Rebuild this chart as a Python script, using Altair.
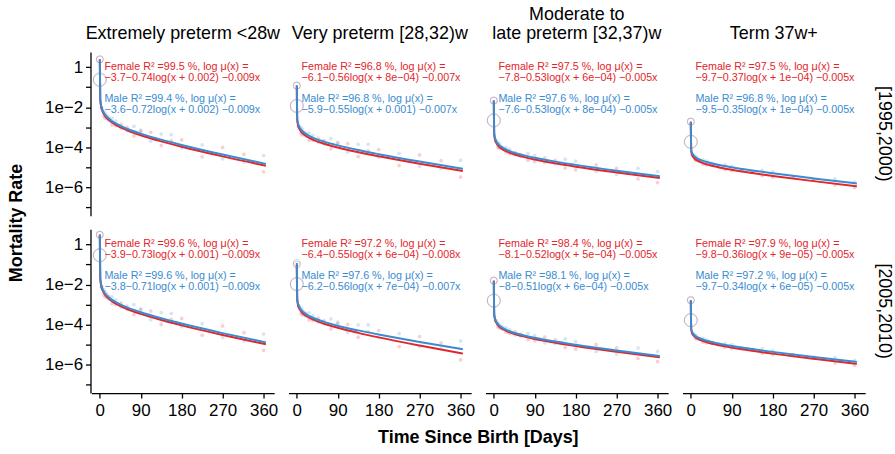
import altair as alt
import pandas as pd

GROUPS = ["Extremely preterm <28w", "Very preterm [28,32)w",
          "Moderate to|late preterm [32,37)w", "Term 37w+"]
PERIODS = ["[1995,2000)", "[2005,2010)"]
SEXES = ["Female", "Male"]
RED = "#E2262B"
BLUE = "#3A8BD0"

# fitted curves (mortality rate)
DAYS_FIT = [0, 1, 2, 4, 7, 12, 20, 35, 60, 90, 135, 180, 270, 365]
FIT_EP_95_F = [2.46, 0.0245, 0.0145, 0.00855, 0.00550, 0.00353, 0.00225, 0.00130, 6.96e-4, 3.94e-4, 1.95e-4, 1.05e-4, 3.46e-5, 1.18e-5]
FIT_EP_95_M = [2.40, 0.0271, 0.0163, 0.00971, 0.00632, 0.00410, 0.00264, 0.00154, 8.35e-4, 4.76e-4, 2.37e-4, 1.29e-4, 4.27e-5, 1.46e-5]
FIT_VP_95_F = [0.122, 2.23e-3, 1.50e-3, 1.00e-3, 7.18e-4, 5.13e-4, 3.64e-4, 2.40e-4, 1.49e-4, 9.61e-5, 5.59e-5, 3.47e-5, 1.47e-5, 6.40e-6]
FIT_VP_95_M = [0.122, 2.72e-3, 1.85e-3, 1.24e-3, 8.94e-4, 6.42e-4, 4.59e-4, 3.03e-4, 1.89e-4, 1.23e-4, 7.17e-5, 4.47e-5, 1.90e-5, 8.29e-6]
FIT_ML_95_F = [0.0209, 4.08e-4, 2.81e-4, 1.93e-4, 1.41e-4, 1.03e-4, 7.58e-5, 5.23e-5, 3.47e-5, 2.41e-5, 1.55e-5, 1.06e-5, 5.46e-6, 2.90e-6]
FIT_ML_95_M = [0.0219, 4.98e-4, 3.43e-4, 2.35e-4, 1.72e-4, 1.26e-4, 9.26e-5, 6.38e-5, 4.23e-5, 2.94e-5, 1.89e-5, 1.30e-5, 6.67e-6, 3.54e-6]
FIT_T_95_F = [1.85e-3, 6.10e-5, 4.69e-5, 3.60e-5, 2.88e-5, 2.30e-5, 1.83e-5, 1.38e-5, 9.98e-6, 7.39e-6, 5.08e-6, 3.65e-6, 2.00e-6, 1.11e-6]
FIT_T_95_M = [1.88e-3, 7.45e-5, 5.81e-5, 4.52e-5, 3.66e-5, 2.95e-5, 2.37e-5, 1.81e-5, 1.32e-5, 9.88e-6, 6.84e-6, 4.94e-6, 2.74e-6, 1.53e-6]
FIT_EP_05_F = [3.14, 0.0201, 0.0120, 0.00710, 0.00459, 0.00296, 0.00190, 0.00110, 5.94e-4, 3.37e-4, 1.67e-4, 9.04e-5, 2.99e-5, 1.02e-5]
FIT_EP_05_M = [3.02, 0.0222, 0.0134, 0.00807, 0.00528, 0.00344, 0.00223, 0.00131, 7.12e-4, 4.08e-4, 2.04e-4, 1.11e-4, 3.70e-5, 1.27e-5]
FIT_VP_05_F = [0.0983, 1.65e-3, 1.12e-3, 7.51e-4, 5.39e-4, 3.85e-4, 2.73e-4, 1.78e-4, 1.08e-4, 6.81e-5, 3.80e-5, 2.26e-5, 8.81e-6, 3.49e-6]
FIT_VP_05_M = [0.119, 2.02e-3, 1.36e-3, 9.08e-4, 6.50e-4, 4.64e-4, 3.30e-4, 2.17e-4, 1.35e-4, 8.70e-5, 5.06e-5, 3.14e-5, 1.33e-5, 5.79e-6]
FIT_ML_05_F = [0.0158, 3.02e-4, 2.10e-4, 1.45e-4, 1.07e-4, 7.85e-5, 5.78e-5, 4.01e-5, 2.68e-5, 1.87e-5, 1.21e-5, 8.29e-6, 4.28e-6, 2.28e-6]
FIT_ML_05_M = [0.0148, 3.34e-4, 2.33e-4, 1.62e-4, 1.20e-4, 8.90e-5, 6.59e-5, 4.59e-5, 3.08e-5, 2.16e-5, 1.40e-5, 9.65e-6, 5.00e-6, 2.67e-6]
FIT_T_05_F = [1.59e-3, 5.52e-5, 4.28e-5, 3.30e-5, 2.66e-5, 2.14e-5, 1.71e-5, 1.30e-5, 9.41e-6, 7.00e-6, 4.83e-6, 3.48e-6, 1.92e-6, 1.07e-6]
FIT_T_05_M = [1.67e-3, 6.10e-5, 4.79e-5, 3.75e-5, 3.05e-5, 2.48e-5, 2.00e-5, 1.54e-5, 1.13e-5, 8.46e-6, 5.89e-6, 4.26e-6, 2.37e-6, 1.33e-6]

# faint observed rates (estimated from the haze of points)
DAYS_OBS = [4, 9, 12, 16, 20, 27, 35, 47, 60, 75, 90, 112, 135, 157, 180, 225, 270, 317, 360]
OBS_EP_95_F = [9.4e-3, 3.5e-3, 2.8e-3, 3.7e-3, 2.9e-3, 1.3e-3, 1.2e-3, 1.4e-3, 9.7e-4, 3.7e-4, 6.3e-4, 5.5e-4, 1.2e-4, 2.1e-4, 2.3e-4, 3.3e-5, 9.7e-5, 4.4e-5, 5.9e-6]
OBS_EP_95_M = [8.7e-3, 6.4e-3, 4.9e-3, 2.6e-3, 2.1e-3, 2.8e-3, 2.0e-3, 8.5e-4, 6.7e-4, 1.1e-3, 7.1e-4, 2.0e-4, 4.5e-4, 4.2e-4, 9.0e-5, 1.3e-4, 2.6e-5, 1.8e-5, 3.8e-5]
OBS_VP_95_F = [1.1e-3, 4.9e-4, 4.1e-4, 5.6e-4, 4.7e-4, 2.2e-4, 2.2e-4, 2.8e-4, 2.1e-4, 8.4e-5, 1.5e-4, 1.5e-4, 3.4e-5, 6.6e-5, 7.6e-5, 1.2e-5, 4.1e-5, 2.1e-5, 3.2e-6]
OBS_VP_95_M = [1.1e-3, 9.5e-4, 7.7e-4, 4.3e-4, 3.7e-4, 5.2e-4, 3.9e-4, 1.8e-4, 1.5e-4, 2.7e-4, 1.8e-4, 5.6e-5, 1.4e-4, 1.4e-4, 3.1e-5, 4.9e-5, 1.1e-5, 8.8e-6, 2.2e-5]
OBS_ML_95_F = [2.1e-4, 1.0e-4, 8.8e-5, 1.1e-4, 9.1e-5, 5.4e-5, 4.7e-5, 5.5e-5, 4.3e-5, 2.2e-5, 1.9e-5, 2.9e-5, 2.2e-5, 9.0e-6, 7.4e-6, 1.3e-5, 8.7e-6, 2.6e-6, 1.7e-6]
OBS_ML_95_M = [2.1e-4, 1.7e-4, 1.5e-4, 9.2e-5, 7.9e-5, 9.6e-5, 7.7e-5, 4.2e-5, 3.6e-5, 4.9e-5, 3.8e-5, 1.7e-5, 1.4e-5, 2.5e-5, 2.0e-5, 6.1e-6, 4.3e-6, 8.7e-6, 6.0e-6]
OBS_T_95_F = [3.8e-5, 2.4e-5, 2.1e-5, 2.3e-5, 2.0e-5, 1.4e-5, 1.3e-5, 1.3e-5, 1.1e-5, 7.6e-6, 6.7e-6, 7.0e-6, 5.8e-6, 3.7e-6, 3.2e-6, 3.2e-6, 2.4e-6, 1.3e-6, 9.5e-7]
OBS_T_95_M = [4.3e-5, 3.6e-5, 3.2e-5, 2.4e-5, 2.2e-5, 2.3e-5, 2.0e-5, 1.4e-5, 1.2e-5, 1.3e-5, 1.1e-5, 7.2e-6, 6.2e-6, 7.0e-6, 5.8e-6, 3.2e-6, 2.4e-6, 2.6e-6, 1.8e-6]
OBS_EP_05_F = [7.8e-3, 3.0e-3, 2.4e-3, 3.1e-3, 2.5e-3, 1.1e-3, 9.9e-4, 1.2e-3, 8.3e-4, 3.1e-4, 5.4e-4, 4.7e-4, 1.0e-4, 1.8e-4, 2.0e-4, 2.9e-5, 8.4e-5, 3.9e-5, 5.1e-6]
OBS_EP_05_M = [7.3e-3, 5.3e-3, 4.1e-3, 2.2e-3, 1.8e-3, 2.4e-3, 1.7e-3, 7.2e-4, 5.7e-4, 9.7e-4, 6.1e-4, 1.7e-4, 3.9e-4, 3.6e-4, 7.8e-5, 1.1e-4, 2.2e-5, 1.5e-5, 3.3e-5]
OBS_VP_05_F = [8.3e-4, 3.6e-4, 3.1e-4, 4.2e-4, 3.5e-4, 1.7e-4, 1.6e-4, 2.1e-4, 1.5e-4, 6.0e-5, 1.1e-4, 1.0e-4, 2.3e-5, 4.4e-5, 5.0e-5, 7.8e-6, 2.5e-5, 1.2e-5, 1.7e-6]
OBS_VP_05_M = [8.2e-4, 6.9e-4, 5.6e-4, 3.1e-4, 2.6e-4, 3.8e-4, 2.8e-4, 1.3e-4, 1.1e-4, 1.9e-4, 1.3e-4, 4.0e-5, 9.6e-5, 9.6e-5, 2.2e-5, 3.5e-5, 8.0e-6, 6.1e-6, 1.5e-5]
OBS_ML_05_F = [1.6e-4, 7.8e-5, 6.7e-5, 8.1e-5, 6.9e-5, 4.1e-5, 3.6e-5, 4.3e-5, 3.3e-5, 1.7e-5, 1.5e-5, 2.3e-5, 1.7e-5, 7.0e-6, 5.8e-6, 1.0e-5, 6.8e-6, 2.0e-6, 1.4e-6]
OBS_ML_05_M = [1.5e-4, 1.2e-4, 1.0e-4, 6.5e-5, 5.6e-5, 6.9e-5, 5.5e-5, 3.0e-5, 2.6e-5, 3.6e-5, 2.8e-5, 1.2e-5, 1.1e-5, 1.9e-5, 1.4e-5, 4.5e-6, 3.3e-6, 6.6e-6, 4.5e-6]
OBS_T_05_F = [3.5e-5, 2.2e-5, 1.9e-5, 2.1e-5, 1.9e-5, 1.3e-5, 1.2e-5, 1.2e-5, 1.0e-5, 7.1e-6, 6.3e-6, 6.7e-6, 5.6e-6, 3.6e-6, 3.1e-6, 3.1e-6, 2.3e-6, 1.2e-6, 9.1e-7]
OBS_T_05_M = [3.6e-5, 3.0e-5, 2.7e-5, 2.0e-5, 1.9e-5, 2.0e-5, 1.7e-5, 1.2e-5, 1.0e-5, 1.1e-5, 9.7e-6, 6.2e-6, 5.3e-6, 6.0e-6, 5.0e-6, 2.7e-6, 2.1e-6, 2.2e-6, 1.6e-6]

# the first-day points drawn as open circles
DAYS_FIRST = [0, 0]
FIRST_EP_95_F = [2.5, 0.25]
FIRST_EP_95_M = [2.4, 0.22]
FIRST_VP_95_F = [0.12, 0.012]
FIRST_VP_95_M = [0.12, 0.011]
FIRST_ML_95_F = [0.021, 0.0021]
FIRST_ML_95_M = [0.022, 0.0023]
FIRST_T_95_F = [1.9e-3, 1.9e-4]
FIRST_T_95_M = [1.9e-3, 1.8e-4]
FIRST_EP_05_F = [3.1, 0.3]
FIRST_EP_05_M = [3.0, 0.28]
FIRST_VP_05_F = [0.098, 0.010]
FIRST_VP_05_M = [0.12, 0.011]
FIRST_ML_05_F = [0.016, 0.0016]
FIRST_ML_05_M = [0.015, 0.0015]
FIRST_T_05_F = [1.6e-3, 1.6e-4]
FIRST_T_05_M = [1.7e-3, 1.7e-4]

LAB_EP_95_F = "Female R² =99.5 %, log μ(x) =\n−3.7−0.74log(x + 0.002) −0.009x"
LAB_EP_95_M = "Male R² =99.4 %, log μ(x) =\n−3.6−0.72log(x + 0.002) −0.009x"
LAB_VP_95_F = "Female R² =96.8 %, log μ(x) =\n−6.1−0.56log(x + 8e−04) −0.007x"
LAB_VP_95_M = "Male R² =96.8 %, log μ(x) =\n−5.9−0.55log(x + 0.001) −0.007x"
LAB_ML_95_F = "Female R² =97.5 %, log μ(x) =\n−7.8−0.53log(x + 6e−04) −0.005x"
LAB_ML_95_M = "Male R² =97.6 %, log μ(x) =\n−7.6−0.53log(x + 8e−04) −0.005x"
LAB_T_95_F = "Female R² =97.5 %, log μ(x) =\n−9.7−0.37log(x + 1e−04) −0.005x"
LAB_T_95_M = "Male R² =96.8 %, log μ(x) =\n−9.5−0.35log(x + 1e−04) −0.005x"
LAB_EP_05_F = "Female R² =99.6 %, log μ(x) =\n−3.9−0.73log(x + 0.001) −0.009x"
LAB_EP_05_M = "Male R² =99.6 %, log μ(x) =\n−3.8−0.71log(x + 0.001) −0.009x"
LAB_VP_05_F = "Female R² =97.2 %, log μ(x) =\n−6.4−0.55log(x + 6e−04) −0.008x"
LAB_VP_05_M = "Male R² =97.6 %, log μ(x) =\n−6.2−0.56log(x + 7e−04) −0.007x"
LAB_ML_05_F = "Female R² =98.4 %, log μ(x) =\n−8.1−0.52log(x + 5e−04) −0.005x"
LAB_ML_05_M = "Male R² =98.1 %, log μ(x) =\n−8−0.51log(x + 6e−04) −0.005x"
LAB_T_05_F = "Female R² =97.9 %, log μ(x) =\n−9.8−0.36log(x + 9e−05) −0.005x"
LAB_T_05_M = "Male R² =97.2 %, log μ(x) =\n−9.7−0.34log(x + 6e−05) −0.005x"

SERIES = [
    (0, 0, "Female", FIT_EP_95_F, OBS_EP_95_F, FIRST_EP_95_F, LAB_EP_95_F),
    (0, 0, "Male", FIT_EP_95_M, OBS_EP_95_M, FIRST_EP_95_M, LAB_EP_95_M),
    (1, 0, "Female", FIT_VP_95_F, OBS_VP_95_F, FIRST_VP_95_F, LAB_VP_95_F),
    (1, 0, "Male", FIT_VP_95_M, OBS_VP_95_M, FIRST_VP_95_M, LAB_VP_95_M),
    (2, 0, "Female", FIT_ML_95_F, OBS_ML_95_F, FIRST_ML_95_F, LAB_ML_95_F),
    (2, 0, "Male", FIT_ML_95_M, OBS_ML_95_M, FIRST_ML_95_M, LAB_ML_95_M),
    (3, 0, "Female", FIT_T_95_F, OBS_T_95_F, FIRST_T_95_F, LAB_T_95_F),
    (3, 0, "Male", FIT_T_95_M, OBS_T_95_M, FIRST_T_95_M, LAB_T_95_M),
    (0, 1, "Female", FIT_EP_05_F, OBS_EP_05_F, FIRST_EP_05_F, LAB_EP_05_F),
    (0, 1, "Male", FIT_EP_05_M, OBS_EP_05_M, FIRST_EP_05_M, LAB_EP_05_M),
    (1, 1, "Female", FIT_VP_05_F, OBS_VP_05_F, FIRST_VP_05_F, LAB_VP_05_F),
    (1, 1, "Male", FIT_VP_05_M, OBS_VP_05_M, FIRST_VP_05_M, LAB_VP_05_M),
    (2, 1, "Female", FIT_ML_05_F, OBS_ML_05_F, FIRST_ML_05_F, LAB_ML_05_F),
    (2, 1, "Male", FIT_ML_05_M, OBS_ML_05_M, FIRST_ML_05_M, LAB_ML_05_M),
    (3, 1, "Female", FIT_T_05_F, OBS_T_05_F, FIRST_T_05_F, LAB_T_05_F),
    (3, 1, "Male", FIT_T_05_M, OBS_T_05_M, FIRST_T_05_M, LAB_T_05_M),
]

rows = []
for gi, pi, sex, fit, obs, first, lab in SERIES:
    g, p = GROUPS[gi], PERIODS[pi]
    for d, v in zip(DAYS_FIT, fit):
        rows.append(dict(group=g, period=p, sex=sex, kind="fit", day=d, rate=v, idx=0, label=""))
    for d, v in zip(DAYS_OBS, obs):
        rows.append(dict(group=g, period=p, sex=sex, kind="obs", day=d, rate=v, idx=0, label=""))
    for k, (d, v) in enumerate(zip(DAYS_FIRST, first)):
        rows.append(dict(group=g, period=p, sex=sex, kind="first", day=d, rate=v, idx=k, label=""))
    rows.append(dict(group=g, period=p, sex=sex, kind="label", day=0, rate=1.0, idx=0, label=lab))
df = pd.DataFrame(rows)

FONT = "Liberation Sans"
MINUS = "\u2212"

xscale = alt.Scale(domain=[-18.25, 383.25], nice=False, zero=False)
yscale = alt.Scale(type="log", domain=[10 ** -7.43, 10 ** 0.76], nice=False)
xaxis = alt.Axis(values=[0, 90, 180, 270, 360], title=None, labelFontSize=17,
                 labelPadding=5, tickSize=5, grid=False)
yaxis = alt.Axis(values=[1e-7, 1e-6, 1e-5, 1e-4, 1e-3, 1e-2, 1e-1, 1], title=None,
                 labelFontSize=17, labelPadding=3, tickSize=5, grid=False,
                 labelExpr=("datum.value >= 0.5 ? '1' : (abs(round(log(datum.value)/LN10)) % 2 == 0 ? "
                            "'1e" + MINUS + "' + abs(round(log(datum.value)/LN10)) : '')"))
color = alt.Color("sex:N", scale=alt.Scale(domain=SEXES, range=[RED, BLUE]), legend=None)

base = alt.Chart().encode(
    x=alt.X("day:Q", scale=xscale, axis=xaxis),
    y=alt.Y("rate:Q", scale=yscale, axis=yaxis),
)
obs_layer = base.transform_filter("datum.kind == 'obs'").mark_circle(size=14, opacity=0.22).encode(color=color)
first_layer = base.transform_filter("datum.kind == 'first'").mark_point(
    filled=False, strokeWidth=1, opacity=0.3).encode(
    color=color,
    size=alt.Size("idx:Q", scale=alt.Scale(domain=[0, 1], range=[50, 170]), legend=None))
line_f = base.transform_filter("datum.kind == 'fit' && datum.sex == 'Female'").mark_line(
    color=RED, strokeWidth=2, interpolate="monotone")
line_m = base.transform_filter("datum.kind == 'fit' && datum.sex == 'Male'").mark_line(
    color=BLUE, strokeWidth=2, interpolate="monotone")
text_f = alt.Chart().transform_filter("datum.kind == 'label' && datum.sex == 'Female'").mark_text(
    align="left", baseline="top", fontSize=10.8, lineHeight=11, lineBreak="\n", color=RED, font=FONT
).encode(x=alt.value(13), y=alt.value(9), text="label:N")
text_m = alt.Chart().transform_filter("datum.kind == 'label' && datum.sex == 'Male'").mark_text(
    align="left", baseline="top", fontSize=10.8, lineHeight=11, lineBreak="\n", color=BLUE, font=FONT
).encode(x=alt.value(13), y=alt.value(41.5), text="label:N")

layered = alt.layer(obs_layer, first_layer, line_f, line_m, text_f, text_m, data=df).properties(
    width=183.7, height=164.7)

chart = layered.facet(
    row=alt.Row("period:N", sort=PERIODS, header=alt.Header(
        title="Mortality Rate", titleOrient="left", titleFontSize=18, titleFontWeight="bold",
        titleFont=FONT, titleColor="black", titlePadding=8,
        labelOrient="right", labelAngle=90, labelFontSize=18, labelFont=FONT, labelColor="black",
        labelPadding=10)),
    column=alt.Column("group:N", sort=GROUPS, header=alt.Header(
        title="Time Since Birth [Days]", titleOrient="bottom", titleFontSize=18, titleFontWeight="bold",
        titleFont=FONT, titleColor="black", titlePadding=0,
        labelOrient="top", labelFontSize=18, labelFont=FONT, labelColor="black", labelPadding=9,
        labelLineHeight=19, labelExpr="split(datum.label, '|')")),
    spacing={"row": 12.3, "column": 13.1},
).properties(
    padding={"left": 7, "top": 5, "right": 2, "bottom": 2}
).configure(font=FONT).configure_view(stroke=None).configure_axis(
    domainColor="black", domainWidth=1.3, tickColor="black", tickWidth=1.3,
    labelColor="black", labelFont=FONT
)

chart.save("out.html", embed_options={"renderer": "svg", "actions": False})
